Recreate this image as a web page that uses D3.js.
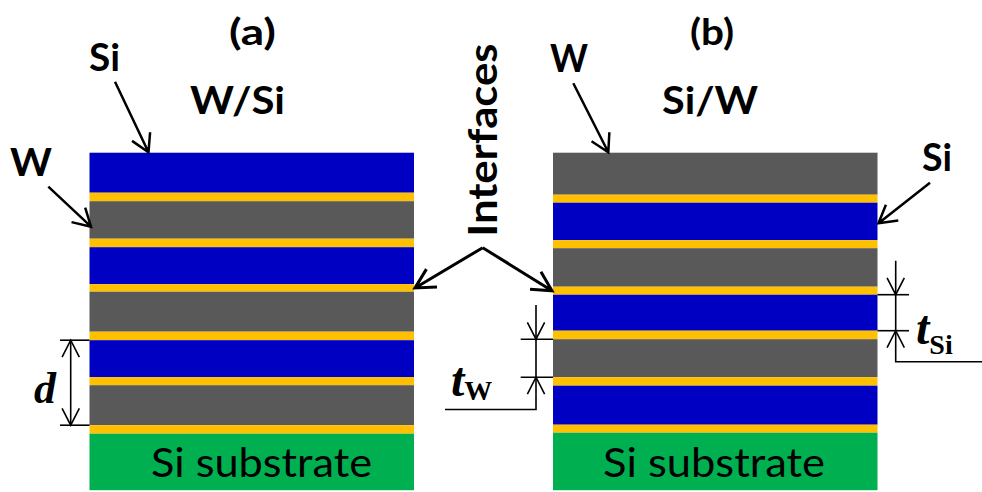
<!DOCTYPE html>
<html>
<head>
<meta charset="utf-8">
<script src="https://cdn.jsdelivr.net/npm/d3@7"></script>
<style>
  html, body { margin: 0; padding: 0; background: #ffffff; }
  svg { display: block; }
</style>
</head>
<body>
<svg id="fig" width="982" height="492"></svg>
<script>
// Layer sequence of each multilayer stack, top to bottom (IF = interface layer)
const stackAMaterials = ["Si", "IF", "W", "IF", "Si", "IF", "W", "IF", "Si", "IF", "W", "IF", "Sub"];
const stackAThickness = [40, 8.5, 37.5, 8.5, 37, 7.5, 40, 8.5, 37, 8, 40, 8.5, 56.5];
const stackBMaterials = ["W", "IF", "Si", "IF", "W", "IF", "Si", "IF", "W", "IF", "Si", "IF", "Sub"];
const stackBThickness = [42, 8, 37.5, 8, 38.5, 8, 36, 8.5, 38, 8.5, 39, 8, 57.5];

const panelLetters = ["(a)", "(b)"];
const panelTitles = ["W/Si", "Si/W"];
const substrateLabel = "Si substrate";
const calloutText = "Interfaces";

const materialColor = { Si: "#0000c2", W: "#595959", IF: "#ffc000", Sub: "#00b050" };

const svg = d3.select("#fig");
const W = 982, H = 492;

// Shared vertical scale: cumulative thickness -> page y
const total = d3.sum(stackAThickness);
const y = d3.scaleLinear().domain([0, total]).range([152.7, 490.2]);
// Horizontal placement of the two stacks
const xA = d3.scaleLinear().domain([0, 1]).range([89.5, 414]);
const xB = d3.scaleLinear().domain([0, 1]).range([553, 877.5]);

function layers(mats, th) {
  let acc = 0;
  return mats.map((m, i) => { const o = { m, y0: acc, y1: acc + th[i], i }; acc += th[i]; return o; });
}
const LA = layers(stackAMaterials, stackAThickness);
const LB = layers(stackBMaterials, stackBThickness);

function drawStack(L, xs) {
  svg.append("g").selectAll("rect").data(L).join("rect")
    .attr("x", xs(0)).attr("width", xs(1) - xs(0))
    .attr("y", d => y(d.y0)).attr("height", d => y(d.y1) - y(d.y0))
    .attr("fill", d => materialColor[d.m]);
}
drawStack(LA, xA);
drawStack(LB, xB);

// Open-V arrow: shaft from (x1,y1) to tip (x2,y2)
function arrow(g, x1, y1, x2, y2, opt) {
  const o = Object.assign({ len: 20, ang: 30, w: 2.5, shaft: true }, opt || {});
  const a = Math.atan2(y2 - y1, x2 - x1);
  const h = o.ang * Math.PI / 180;
  const p = d3.path();
  if (o.shaft) { p.moveTo(x1, y1); p.lineTo(x2, y2); }
  p.moveTo(x2 - o.len * Math.cos(a - h), y2 - o.len * Math.sin(a - h));
  p.lineTo(x2, y2);
  p.lineTo(x2 - o.len * Math.cos(a + h), y2 - o.len * Math.sin(a + h));
  g.append("path").attr("d", p.toString())
    .attr("fill", "none").attr("stroke", "#000").attr("stroke-width", o.w)
    .attr("stroke-linejoin", "miter").attr("stroke-linecap", "butt");
}
function line(g, x1, y1, x2, y2, w) {
  g.append("line").attr("x1", x1).attr("y1", y1).attr("x2", x2).attr("y2", y2)
    .attr("stroke", "#000").attr("stroke-width", w || 1.6);
}
const ann = svg.append("g");

function label(txt, x, yb, size, len, opt) {
  const o = Object.assign({ weight: 700, family: "Lato, 'Open Sans', sans-serif", adjust: "spacingAndGlyphs" }, opt || {});
  return svg.append("text").attr("x", x).attr("y", yb)
    .attr("font-family", o.family).attr("font-weight", o.weight).attr("font-size", size)
    .attr("textLength", len).attr("lengthAdjust", o.adjust)
    .attr("fill", "#000").text(txt);
}

// Panel letters and titles
label(panelLetters[0], 229, 45, 36, 47);
label(panelLetters[1], 690, 45, 36, 44);
label(panelTitles[0], 190, 114, 38, 95);
label(panelTitles[1], 662, 114, 38, 96);

// Top-layer / second-layer callouts
label("Si", 89, 71, 38, 31);
arrow(ann, 115, 81.7, 148.5, y(LA[0].y0) - 0.5);
label("W", 10, 176, 38, 42);
arrow(ann, 48.3, 186.7, xA(0) + 1.5, 226.7);
label("W", 550, 71.5, 38, 38);
arrow(ann, 573.3, 83.3, 608.3, y(LB[0].y0) - 0.5);
label("Si", 922, 171, 38, 30);
arrow(ann, 930, 182.7, xB(1) + 1, 223.3);

// Substrate labels
label(substrateLabel, 151, 476.5, 40, 221, { weight: 400 });
label(substrateLabel, 603, 476.5, 40, 222, { weight: 400 });

// "Interfaces" callout pointing at one interface of each stack
svg.append("text")
  .attr("transform", "translate(497,236.7) rotate(-90)")
  .attr("font-family", "Lato, 'Open Sans', sans-serif").attr("font-weight", 700)
  .attr("font-size", 41).attr("textLength", 193).attr("lengthAdjust", "spacingAndGlyphs")
  .text(calloutText);
const ifA = LA[5], ifB = LB[5];
arrow(ann, 482.7, 247.7, xA(1) + 1, y((ifA.y0 + ifA.y1) / 2), { w: 3, len: 22, ang: 28 });
arrow(ann, 482.7, 247.7, xB(0) - 1, y((ifB.y0 + ifB.y1) / 2), { w: 3, len: 22, ang: 28 });

const serif = "'Liberation Serif', 'Times New Roman', serif";

// Period d on stack (a): from top of a Si layer to bottom of the next W layer
const dTop = y(LA[8].y0), dBot = y(LA[10].y1);
line(ann, 60, dTop, xA(0), dTop);
line(ann, 60, dBot, xA(0), dBot);
line(ann, 70.7, dTop, 70.7, dBot);
arrow(ann, 70.7, dBot, 70.7, dTop, { shaft: false, len: 19, ang: 27, w: 1.6 });
arrow(ann, 70.7, dTop, 70.7, dBot, { shaft: false, len: 19, ang: 27, w: 1.6 });
svg.append("text").attr("x", 34).attr("y", 403)
  .attr("font-family", serif).attr("font-weight", 700).attr("font-style", "italic")
  .attr("font-size", 44).text("d");

// Si thickness on stack (b)
const sTop = y(LB[6].y0), sBot = y(LB[6].y1);
line(ann, xB(1), sTop, 909, sTop);
line(ann, xB(1), sBot, 909, sBot);
ann.append("path").attr("d", `M895.7,260.7V361.7H${W}`).attr("fill", "none")
  .attr("stroke", "#000").attr("stroke-width", 1.6);
arrow(ann, 895.7, 260.7, 895.7, sTop, { shaft: false, len: 19, ang: 27, w: 1.6 });
arrow(ann, 895.7, 361.7, 895.7, sBot, { shaft: false, len: 19, ang: 27, w: 1.6 });
const tSi = svg.append("text").attr("x", 916).attr("y", 344)
  .attr("font-family", serif).attr("font-weight", 700);
tSi.append("tspan").attr("font-style", "italic").attr("font-size", 48).text("t");
tSi.append("tspan").attr("font-size", 28).attr("dy", 10).text("Si");

// W thickness on stack (b)
const wTop = y(LB[8].y0), wBot = y(LB[8].y1);
line(ann, 520.7, wTop, xB(0), wTop);
line(ann, 520.7, wBot, xB(0), wBot);
ann.append("path").attr("d", `M536,305V409.5H445`).attr("fill", "none")
  .attr("stroke", "#000").attr("stroke-width", 1.6);
arrow(ann, 536, 305, 536, wTop, { shaft: false, len: 19, ang: 27, w: 1.6 });
arrow(ann, 536, 409.5, 536, wBot, { shaft: false, len: 19, ang: 27, w: 1.6 });
const tW = svg.append("text").attr("x", 451).attr("y", 396)
  .attr("font-family", serif).attr("font-weight", 700);
tW.append("tspan").attr("font-style", "italic").attr("font-size", 48).text("t");
tW.append("tspan").attr("font-size", 28).attr("dy", 4).text("W");
</script>
</body>
</html>
